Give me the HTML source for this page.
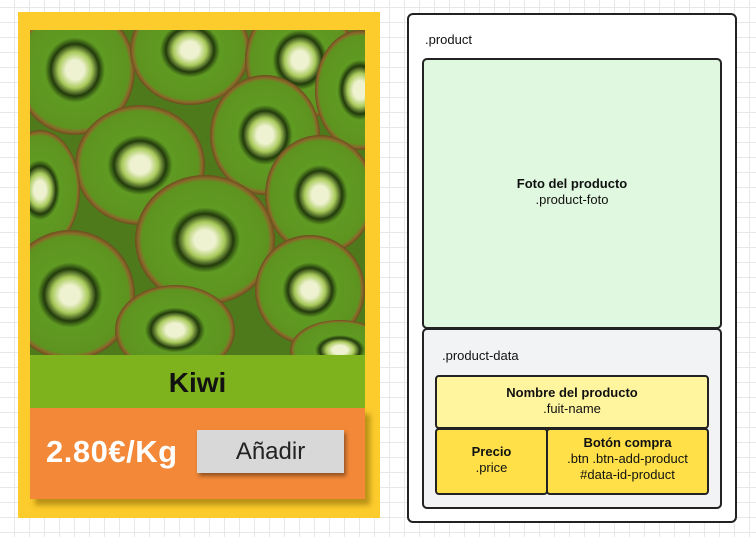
<!DOCTYPE html>
<html><head><style>
body{margin:0;width:756px;height:537px;overflow:hidden;background:#fff;
background-image:linear-gradient(#e8e8e8 1px,transparent 1px),linear-gradient(90deg,#e8e8e8 1px,transparent 1px);background-size:15px 15px;background-position:-1px 7px;
font-family:"Liberation Sans",sans-serif;position:relative}
.a{position:absolute;box-sizing:border-box}
.t{font-size:13px;color:#111;text-align:center;line-height:16px}
</style></head><body>
<div class="a" style="left:18px;top:12px;width:362px;height:506px;background:#fccb2c"></div>
<div class="a" style="left:30px;top:30px;width:335px;height:325px;overflow:hidden;background:#4f7a1c">
<svg width="335" height="325">
<defs><radialGradient id="k"><stop offset="0.15" stop-color="#eef2d0"/><stop offset="0.28" stop-color="#a8c95a"/><stop offset="0.4" stop-color="#223a0c"/><stop offset="0.5" stop-color="#5f9a22"/><stop offset="0.9" stop-color="#5d9420"/><stop offset="0.95" stop-color="#8a6a2a"/><stop offset="1" stop-color="#6b4d1e"/></radialGradient></defs>
<g fill="url(#k)">
<ellipse cx="45" cy="40" rx="60" ry="65"/><ellipse cx="160" cy="20" rx="60" ry="55"/><ellipse cx="270" cy="30" rx="55" ry="60"/><ellipse cx="330" cy="60" rx="45" ry="60"/>
<ellipse cx="110" cy="135" rx="65" ry="60"/><ellipse cx="235" cy="105" rx="55" ry="60"/><ellipse cx="290" cy="165" rx="55" ry="60"/><ellipse cx="10" cy="160" rx="40" ry="60"/>
<ellipse cx="175" cy="210" rx="70" ry="65"/><ellipse cx="40" cy="265" rx="65" ry="65"/><ellipse cx="145" cy="300" rx="60" ry="45"/><ellipse cx="280" cy="260" rx="55" ry="55"/><ellipse cx="310" cy="320" rx="50" ry="30"/>
</g></svg></div>
<div class="a" style="left:30px;top:355px;width:335px;height:53px;background:#7fb31e;text-align:center;font:bold 28px 'Liberation Sans',sans-serif;line-height:55px;color:#111">Kiwi</div>
<div class="a" style="left:30px;top:408px;width:335px;height:91px;background:#f28838;box-shadow:5px 6px 5px rgba(120,90,0,.5)"></div>
<div class="a" style="left:46px;top:434px;color:#fff;font-size:31px;line-height:36px;letter-spacing:0.5px;font-weight:bold">2.80€/Kg</div>
<div class="a" style="left:197px;top:430px;width:147px;height:43px;background:#d8d8d8;box-shadow:2px 3px 4px rgba(0,0,0,.4);text-align:center;font-size:24px;line-height:43px;color:#222">Añadir</div>

<div class="a" style="left:407px;top:13px;width:330px;height:510px;border:2px solid #222;border-radius:6px;background:#fff"></div>
<div class="a t" style="left:425px;top:32px;text-align:left">.product</div>
<div class="a" style="left:422px;top:58px;width:300px;height:271px;border:2px solid #222;border-radius:5px;background:#e0f8e0"></div>
<div class="a t" style="left:422px;top:176px;width:300px"><b>Foto del producto</b><br>.product-foto</div>
<div class="a" style="left:422px;top:328px;width:300px;height:181px;border:2px solid #222;border-radius:5px;background:#f2f3f5"></div>
<div class="a t" style="left:442px;top:348px;text-align:left">.product-data</div>
<div class="a" style="left:435px;top:375px;width:274px;height:54px;border:2px solid #222;border-radius:4px;background:#fff59e"></div>
<div class="a t" style="left:435px;top:385px;width:274px"><b>Nombre del producto</b><br>.fuit-name</div>
<div class="a" style="left:435px;top:428px;width:113px;height:67px;border:2px solid #222;border-radius:4px;background:#ffe048"></div>
<div class="a t" style="left:435px;top:444px;width:113px"><b>Precio</b><br>.price</div>
<div class="a" style="left:546px;top:428px;width:163px;height:67px;border:2px solid #222;border-radius:4px;background:#ffe048"></div>
<div class="a t" style="left:546px;top:435px;width:163px"><b>Botón compra</b><br>.btn .btn-add-product<br>#data-id-product</div>
</body></html>
